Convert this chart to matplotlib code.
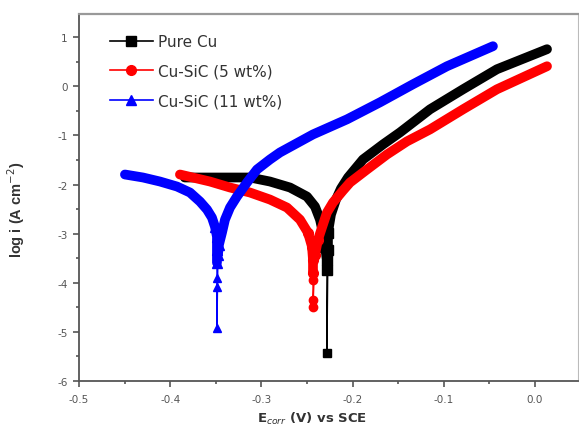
import matplotlib
matplotlib.use("Agg")
import matplotlib.pyplot as plt
from matplotlib.ticker import MultipleLocator

plt.rcParams["font.family"] = ["DejaVu Sans"]

# ---- Pure Cu ----
cu_cat_E = [-0.384, -0.3344, -0.3125, -0.2906, -0.2686, -0.2500, -0.2412, -0.2357, -0.2325, -0.2303, -0.2281, -0.2281]
cu_cat_L = [-1.857, -1.857, -1.857, -1.939, -2.061, -2.245, -2.449, -2.714, -2.980, -3.265, -3.531, -3.735]
cu_tail_E = [-0.2281, -0.2281, -0.2281, -0.2270]
cu_tail_L = [-3.531, -3.735, -5.429, -3.327]
cu_an_E = [-0.2270, -0.2270, -0.2237, -0.2182, -0.2127, -0.2050, -0.1886, -0.1667, -0.1480, -0.1151, -0.0789, -0.0417, 0.0132]
cu_an_L = [-3.327, -2.980, -2.612, -2.306, -2.082, -1.857, -1.490, -1.184, -0.939, -0.469, -0.061, 0.347, 0.755]

# ---- Cu-SiC (5 wt%) ----
s5_cat_E = [-0.3893, -0.3564, -0.3344, -0.3125, -0.2906, -0.2719, -0.2577, -0.2489, -0.2445, -0.2434, -0.2434]
s5_cat_L = [-1.796, -1.939, -2.061, -2.163, -2.306, -2.469, -2.714, -2.980, -3.265, -3.531, -3.796]
s5_tail_E = [-0.2434, -0.2434, -0.2434, -0.2434, -0.2412]
s5_tail_L = [-3.796, -3.939, -4.347, -4.490, -3.429]
s5_an_E = [-0.2412, -0.2379, -0.2336, -0.2281, -0.2215, -0.2105, -0.2028, -0.1842, -0.1623, -0.1404, -0.1151, -0.0789, -0.0417, 0.0132]
s5_an_L = [-3.429, -3.122, -2.878, -2.571, -2.367, -2.122, -1.959, -1.694, -1.388, -1.122, -0.878, -0.469, -0.061, 0.408]

# ---- Cu-SiC (11 wt%) ----
s11_cat_E = [-0.4496, -0.4298, -0.4112, -0.3925, -0.3783, -0.3673, -0.3596, -0.3542, -0.3509, -0.3487, -0.3487, -0.3487]
s11_cat_L = [-1.796, -1.857, -1.939, -2.041, -2.163, -2.347, -2.510, -2.673, -2.857, -3.061, -3.327, -3.592]
s11_tail_E = [-0.3487, -0.3487, -0.3487, -0.3487, -0.3476]
s11_tail_L = [-3.592, -3.898, -4.082, -4.920, -3.429]
s11_an_E = [-0.3476, -0.3465, -0.3432, -0.3399, -0.3344, -0.3268, -0.3158, -0.3048, -0.2906, -0.2796,
            -0.2434, -0.2061, -0.1700, -0.1338, -0.0965, -0.0461]
s11_an_L = [-3.429, -3.224, -2.980, -2.714, -2.469, -2.245, -1.959, -1.694, -1.490, -1.347,
            -0.980, -0.673, -0.327, 0.041, 0.408, 0.816]

series = [
    ("Pure Cu", "black", "s", cu_cat_E, cu_cat_L, cu_tail_E, cu_tail_L, cu_an_E, cu_an_L),
    ("Cu-SiC (5 wt%)", "red", "o", s5_cat_E, s5_cat_L, s5_tail_E, s5_tail_L, s5_an_E, s5_an_L),
    ("Cu-SiC (11 wt%)", "blue", "^", s11_cat_E, s11_cat_L, s11_tail_E, s11_tail_L, s11_an_E, s11_an_L),
]

fig = plt.figure(figsize=(5.79, 4.31), dpi=100)
ax = fig.add_axes([0.1364, 0.1137, 0.8616, 0.8513])

handles = []
for name, col, mk, cE, cL, tE, tL, aE, aL in series:
    # thin line down to the sparse points at the corrosion potential
    ax.plot(tE, tL, color=col, lw=1.0, marker=mk, ms=6, zorder=2)
    # dense scan drawn as a thick band
    ax.plot(cE, cL, color=col, lw=7, solid_capstyle="round", solid_joinstyle="round", zorder=3)
    ax.plot(aE, aL, color=col, lw=7, solid_capstyle="round", solid_joinstyle="round", zorder=3)
    ax.plot(cE[-4:] + aE[:2], cL[-4:] + aL[:2], color=col, lw=0, marker=mk, ms=7, zorder=3)
    h, = ax.plot([], [], color=col, lw=1.2, marker=mk, ms=7, label=name)
    handles.append(h)

ax.set_xlim(-0.5, 0.047)
ax.set_ylim(-6, 1.47)
ax.xaxis.set_minor_locator(MultipleLocator(0.05))
ax.yaxis.set_minor_locator(MultipleLocator(0.5))
ax.set_xticks([-0.5, -0.4, -0.3, -0.2, -0.1, 0.0])
ax.set_xticklabels(["-0.5", "-0.4", "-0.3", "-0.2", "-0.1", "0.0"])
ax.set_yticks([-6, -5, -4, -3, -2, -1, 0, 1])
ax.set_yticklabels(["-6", "-5", "-4", "-3", "-2", "-1", "0", "1"])

ax.tick_params(which="major", direction="out", length=4.5, width=1.2, colors="#555555", labelsize=7.5)
ax.tick_params(which="minor", direction="out", length=2.5, width=1.2, colors="#555555")
ax.tick_params(axis="x", which="major", pad=5)
ax.tick_params(axis="x", which="both", top=False)
ax.tick_params(axis="y", which="both", right=False)

ax.spines["left"].set_color("#555555")
ax.spines["left"].set_linewidth(1.3)
ax.spines["bottom"].set_color("#555555")
ax.spines["bottom"].set_linewidth(1.3)
ax.spines["top"].set_color("#999999")
ax.spines["top"].set_linewidth(1.6)
ax.spines["right"].set_color("#bbbbbb")
ax.spines["right"].set_linewidth(0.8)

ax.set_ylabel("log i (A cm$^{-2}$)", fontsize=10.5, fontweight="bold", color="#333333",
              family="Liberation Sans")
ax.yaxis.set_label_coords(-0.105, 0.469)
ax.set_xlabel("E$_{corr}$ (V) vs SCE", fontsize=9.5, fontweight="bold", color="#333333")
ax.xaxis.set_label_coords(0.467, -0.08)

leg = ax.legend(handles=handles, loc="upper left", bbox_to_anchor=(0.062, 0.9455), frameon=False,
                fontsize=11, handlelength=2.8, labelspacing=0.95, handletextpad=0.33,
                borderpad=0, borderaxespad=0)
for t in leg.get_texts():
    t.set_color("#333333")

fig.savefig("out.png", dpi=100)
